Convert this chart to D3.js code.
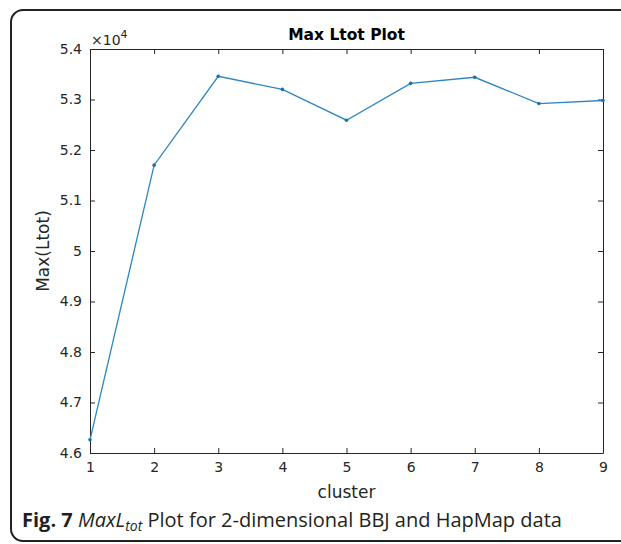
<!DOCTYPE html>
<html>
<head>
<meta charset="utf-8">
<script src="https://cdnjs.cloudflare.com/ajax/libs/d3/7.8.5/d3.min.js"></script>
<style>
  body { margin: 0; background: #fff; }
  svg { display: block; }
</style>
</head>
<body>
<div id="chart"></div>
<script>
// valeurs (x 10^4)
const clusters = [1, 2, 3, 4, 5, 6, 7, 8, 9];
const maxLtot = [4.626, 5.170, 5.346, 5.320, 5.259, 5.332, 5.344, 5.292, 5.298];
const yTicks = [4.6, 4.7, 4.8, 4.9, 5, 5.1, 5.2, 5.3, 5.4];

const W = 621, H = 544;
const margin = { left: 90, right: 18, top: 49, bottom: 91 };
const innerW = W - margin.left - margin.right;
const innerH = H - margin.top - margin.bottom;
const tickFont = "'DejaVu Sans', sans-serif";

const svg = d3.select("#chart").append("svg")
    .attr("width", W)
    .attr("height", H);

// cadre arrondi de la figure
svg.append("rect")
    .attr("x", 11).attr("y", 10)
    .attr("width", 700).attr("height", 531)
    .attr("rx", 12)
    .attr("fill", "none")
    .attr("stroke", "#222")
    .attr("stroke-width", 2);

const x = d3.scaleLinear().domain([1, 9]).range([0, innerW]);
const y = d3.scaleLinear().domain([4.6, 5.4]).range([innerH, 0]);

const g = svg.append("g").attr("transform", `translate(${margin.left},${margin.top})`);

// axes (ticks vers l'intérieur, boîte complète)
function styleAxis(sel) {
    sel.select(".domain").attr("stroke", "#262626");
    sel.selectAll(".tick line").attr("stroke", "#262626");
    sel.selectAll(".tick text")
        .attr("fill", "#262626")
        .style("font-family", tickFont)
        .style("font-size", "14px");
}

g.append("g")
    .attr("transform", `translate(0,${innerH})`)
    .call(d3.axisBottom(x).tickValues(clusters).tickFormat(d3.format("d"))
        .tickSizeInner(-5).tickSizeOuter(0).tickPadding(9))
    .call(styleAxis);

g.append("g")
    .call(d3.axisTop(x).tickValues(clusters).tickFormat("")
        .tickSizeInner(-5).tickSizeOuter(0))
    .call(styleAxis);

g.append("g")
    .call(d3.axisLeft(y).tickValues(yTicks).tickFormat(d => String(d))
        .tickSizeInner(-5).tickSizeOuter(0).tickPadding(8))
    .call(styleAxis);

g.append("g")
    .attr("transform", `translate(${innerW},0)`)
    .call(d3.axisRight(y).tickValues(yTicks).tickFormat("")
        .tickSizeInner(-5).tickSizeOuter(0))
    .call(styleAxis);

// courbe
const pts = clusters.map((c, i) => [c, maxLtot[i]]);
const line = d3.line().x(d => x(d[0])).y(d => y(d[1]));

g.append("path")
    .datum(pts)
    .attr("d", line)
    .attr("fill", "none")
    .attr("stroke", "#2e86c1")
    .attr("stroke-width", 1.3);

g.selectAll("circle.pt")
    .data(pts)
    .enter()
    .append("circle")
    .attr("class", "pt")
    .attr("cx", d => x(d[0]))
    .attr("cy", d => y(d[1]))
    .attr("r", 1.8)
    .attr("fill", "#1f6fa8");

// exposant x10^4
const expo = svg.append("text")
    .attr("x", margin.left + 1)
    .attr("y", margin.top - 4)
    .attr("fill", "#262626")
    .style("font-family", tickFont)
    .style("font-size", "14px");
expo.append("tspan").text("\u00d710");
expo.append("tspan").attr("dy", -7).style("font-size", "11px").text("4");

// titre
svg.append("text")
    .attr("x", margin.left + innerW / 2)
    .attr("y", 40)
    .attr("text-anchor", "middle")
    .attr("fill", "#000")
    .style("font-family", tickFont)
    .style("font-weight", "bold")
    .style("font-size", "15.5px")
    .text("Max Ltot Plot");

// titres des axes
svg.append("text")
    .attr("x", margin.left + innerW / 2)
    .attr("y", 498)
    .attr("text-anchor", "middle")
    .attr("fill", "#262626")
    .style("font-family", tickFont)
    .style("font-size", "17px")
    .text("cluster");

svg.append("text")
    .attr("transform", `translate(49,${margin.top + innerH / 2}) rotate(-90)`)
    .attr("text-anchor", "middle")
    .attr("fill", "#262626")
    .style("font-family", tickFont)
    .style("font-size", "17px")
    .text("Max(Ltot)");

// légende de la figure
const cap = svg.append("text")
    .attr("x", 22)
    .attr("y", 527)
    .attr("fill", "#231f20")
    .style("font-family", "'Open Sans', sans-serif")
    .style("font-size", "20px");
cap.append("tspan").style("font-weight", "bold").text("Fig. 7 ");
cap.append("tspan").style("font-style", "italic").text("MaxL");
cap.append("tspan").style("font-style", "italic").style("font-size", "14px").attr("dy", 4).text("tot");
cap.append("tspan").attr("dy", -4).text(" Plot for 2-dimensional BBJ and HapMap data");
</script>
</body>
</html>
